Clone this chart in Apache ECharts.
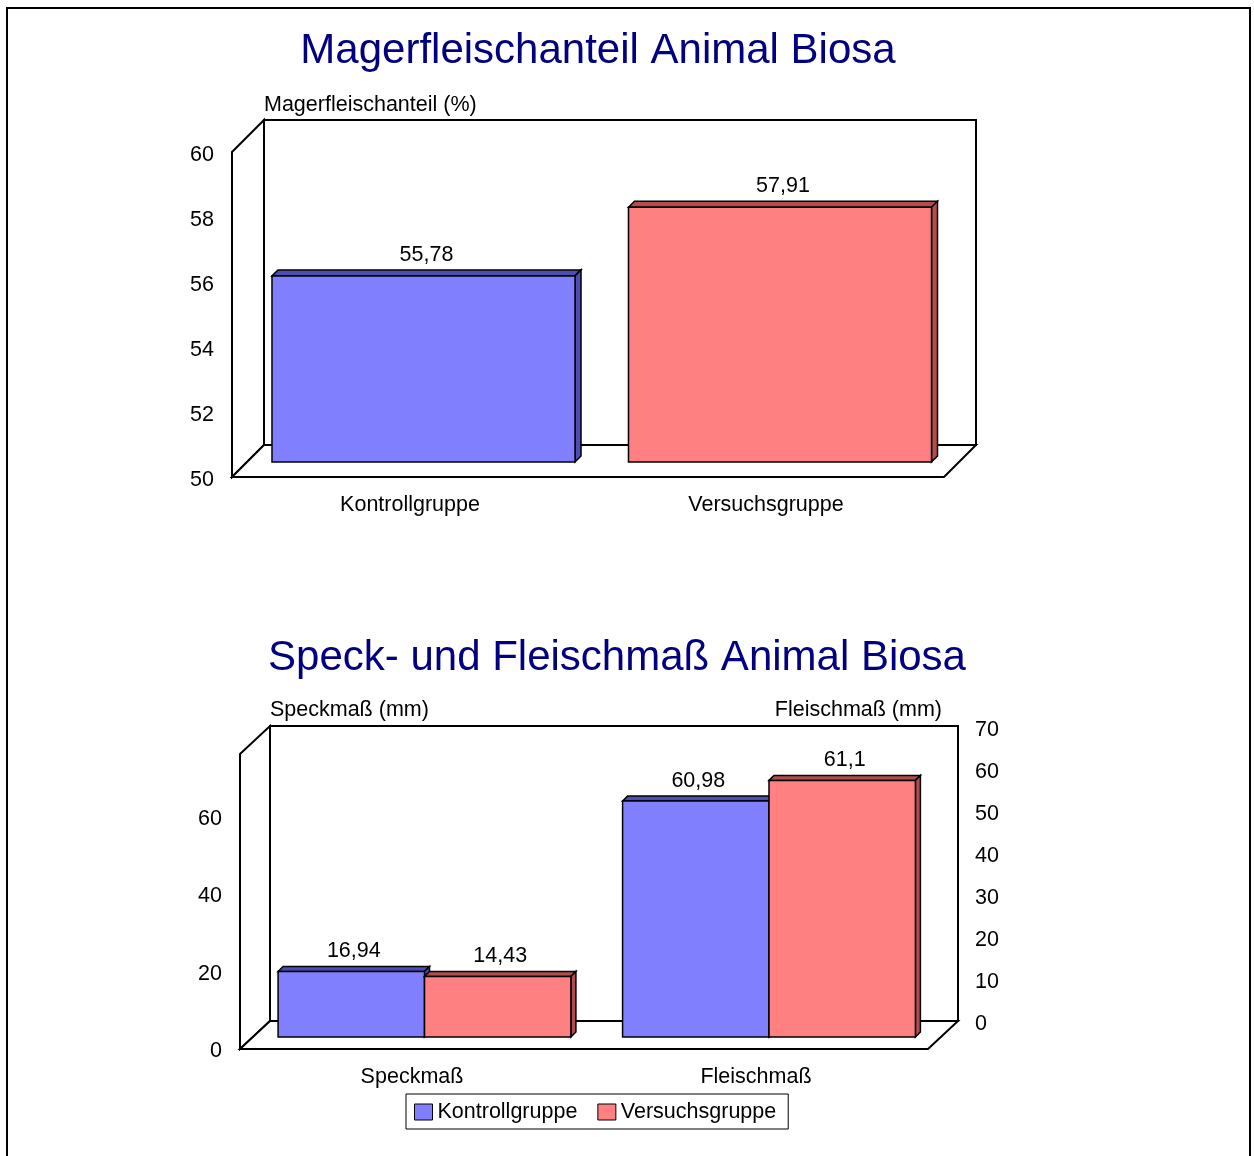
<!DOCTYPE html>
<html>
<head>
<meta charset="utf-8">
<script src="https://cdn.jsdelivr.net/npm/echarts@6/dist/echarts.min.js"></script>
<style>
  html, body { margin: 0; padding: 0; background: #fff; }
  #main { width: 1254px; height: 1156px; }
</style>
</head>
<body>
<div id="main"></div>
<script>
// Daten
var magerCategories = ['Kontrollgruppe', 'Versuchsgruppe'];
var magerValues = [55.78, 57.91];
var magerRange = [50, 60];
var magerStep = 2;

var masseCategories = ['Speckmaß', 'Fleischmaß'];
var kontrollValues = [16.94, 60.98];
var versuchValues = [14.43, 61.1];
var speckRange = [0, 76];   // linke Achse (Kontrollgruppe)
var speckStep = 20;
var fleischRange = [0, 70]; // rechte Achse (Versuchsgruppe)
var fleischStep = 10;

var FONT = '"Liberation Sans", Arial, sans-serif';
var FS = 21.5;
var blue = '#8080FF', blueDark = '#4D4DB3';
var red = '#FF8080', redDark = '#B34D4D';

function fmt(v) {
    return String(v).replace('.', ',');
}

// 3D-Säule (Excel-Stil): Vorderseite, Deckfläche, rechte Seite + Wertbeschriftung
function bar3d(base, slot, slots, ratio, depth, colors) {
    return function (params, api) {
        var cat = api.value(0), val = api.value(1);
        var band = api.size([1, 0])[0];
        var p0 = api.coord([cat, base]);
        var p1 = api.coord([cat, val]);
        var w = band * ratio / slots;
        var x0 = p0[0] - band * ratio / 2 + slot * w;
        var x1 = x0 + w;
        var yT = p1[1], yB = p0[1], d = depth;
        var c = colors[params.dataIndex % colors.length];
        return {
            type: 'group',
            children: [
                { type: 'polygon', shape: { points: [[x0, yT], [x0 + d, yT - d], [x1 + d, yT - d], [x1, yT]] },
                  style: { fill: c[1], stroke: '#000', lineWidth: 1.5 } },
                { type: 'polygon', shape: { points: [[x1, yT], [x1 + d, yT - d], [x1 + d, yB - d], [x1, yB]] },
                  style: { fill: c[1], stroke: '#000', lineWidth: 1.5 } },
                { type: 'rect', shape: { x: x0, y: yT, width: w, height: yB - yT },
                  style: { fill: c[0], stroke: '#000', lineWidth: 1.5 } },
                { type: 'text', style: { text: fmt(val), x: (x0 + x1) / 2 + d / 2, y: yT - d - 4,
                  align: 'center', verticalAlign: 'bottom', font: FS + 'px ' + FONT, fill: '#000' } }
            ]
        };
    };
}

// Wände (Rückwand, Seitenwand, Boden)
function walls(bx, by, w, h, dx, dy) {
    var st = { fill: '#fff', stroke: '#000', lineWidth: 2 };
    return [
        { type: 'polygon', z: -10, shape: { points: [[bx - dx, by + dy], [bx, by], [bx, by + h], [bx - dx, by + h + dy]] }, style: st },
        { type: 'rect', z: -10, shape: { x: bx, y: by, width: w, height: h }, style: st },
        { type: 'polygon', z: -10, shape: { points: [[bx - dx, by + h + dy], [bx + w - dx, by + h + dy], [bx + w, by + h], [bx, by + h]] }, style: st }
    ];
}

function pairs(arr) {
    return arr.map(function (v, i) { return [i, v]; });
}

var labelStyle = { fontSize: FS, color: '#000', fontFamily: FONT };
var hiddenCat = function (grid, data) {
    return { type: 'category', gridIndex: grid, data: data, show: false };
};
var titleStyle = { fontSize: 42, fontWeight: 'normal', color: '#000080', fontFamily: FONT };
var nameStyle = { fontSize: FS, fontWeight: 'normal', color: '#000', fontFamily: FONT };

var chartDom = document.getElementById('main');
var myChart = echarts.init(chartDom);
var option;

option = {
    animation: false,
    backgroundColor: '#fff',
    textStyle: { fontFamily: FONT },
    title: [
        { text: 'Magerfleischanteil Animal Biosa', left: 598, top: 30, padding: 0, textAlign: 'center', textStyle: titleStyle },
        { text: 'Speck- und Fleischmaß Animal Biosa', left: 617, top: 637, padding: 0, textAlign: 'center', textStyle: titleStyle },
        { text: 'Magerfleischanteil (%)', left: 264, top: 94, padding: 0, textStyle: nameStyle },
        { text: 'Speckmaß (mm)', left: 270, top: 699, padding: 0, textStyle: nameStyle },
        { text: 'Fleischmaß (mm)', left: 942, top: 699, padding: 0, textAlign: 'right', textStyle: nameStyle }
    ],
    legend: {
        data: ['Kontrollgruppe', 'Versuchsgruppe'],
        left: 406, top: 1094,
        padding: [7, 12, 6, 8],
        itemGap: 20,
        itemWidth: 18, itemHeight: 16,
        icon: 'rect',
        borderColor: '#000', borderWidth: 1,
        itemStyle: { borderColor: '#000', borderWidth: 1 },
        textStyle: { fontSize: FS, color: '#000', fontFamily: FONT }
    },
    graphic: [
        { type: 'rect', z: -20, shape: { x: 7, y: 8, width: 1243, height: 1170 },
          style: { fill: 'none', stroke: '#000', lineWidth: 2 } }
    ].concat(walls(264, 120, 712, 325, 32, 32), walls(270, 726, 688, 295, 30, 28)),
    grid: [
        { left: 232, top: 155, width: 712, height: 325 },
        { left: 245.25, top: 140, width: 713, height: 322 },
        { left: 240, top: 757, width: 688, height: 294 },
        { left: 270, top: 730, width: 688, height: 294 },
        { left: 252.25, top: 743, width: 689, height: 294 }
    ],
    xAxis: [
        { type: 'category', gridIndex: 0, data: magerCategories,
          axisLine: { show: false }, axisTick: { show: false },
          axisLabel: Object.assign({ margin: 14 }, labelStyle) },
        hiddenCat(1, magerCategories),
        { type: 'category', gridIndex: 2, data: masseCategories,
          axisLine: { show: false }, axisTick: { show: false },
          axisLabel: Object.assign({ margin: 15 }, labelStyle) },
        hiddenCat(3, masseCategories),
        hiddenCat(4, masseCategories)
    ],
    yAxis: [
        { type: 'value', gridIndex: 0, min: magerRange[0], max: magerRange[1], interval: magerStep,
          axisLine: { show: false }, axisTick: { show: false }, splitLine: { show: false },
          axisLabel: Object.assign({ margin: 18 }, labelStyle) },
        { type: 'value', gridIndex: 1, min: magerRange[0], max: magerRange[1], show: false, splitLine: { show: false } },
        { type: 'value', gridIndex: 2, min: speckRange[0], max: speckRange[1], interval: speckStep,
          axisLine: { show: false }, axisTick: { show: false }, splitLine: { show: false },
          axisLabel: Object.assign({ margin: 18, showMaxLabel: false,
              formatter: function (v) { return v % speckStep === 0 ? String(v) : ''; } }, labelStyle) },
        { type: 'value', gridIndex: 3, position: 'right', min: fleischRange[0], max: fleischRange[1], interval: fleischStep,
          axisLine: { show: false }, axisTick: { show: false }, splitLine: { show: false },
          axisLabel: Object.assign({ margin: 17 }, labelStyle) },
        { type: 'value', gridIndex: 4, min: speckRange[0], max: speckRange[1], show: false, splitLine: { show: false } },
        { type: 'value', gridIndex: 4, position: 'right', min: fleischRange[0], max: fleischRange[1], show: false, splitLine: { show: false } }
    ],
    series: [
        {
            name: 'Magerfleischanteil',
            type: 'custom',
            xAxisIndex: 1, yAxisIndex: 1,
            encode: { x: 0, y: 1 },
            itemStyle: { color: blue },
            renderItem: bar3d(magerRange[0], 0, 1, 0.85, 6, [[blue, blueDark], [red, redDark]]),
            data: pairs(magerValues)
        },
        {
            name: 'Kontrollgruppe',
            type: 'custom',
            xAxisIndex: 4, yAxisIndex: 4,
            encode: { x: 0, y: 1 },
            itemStyle: { color: blue },
            renderItem: bar3d(speckRange[0], 0, 2, 0.85, 5, [[blue, blueDark]]),
            data: pairs(kontrollValues)
        },
        {
            name: 'Versuchsgruppe',
            type: 'custom',
            xAxisIndex: 4, yAxisIndex: 5,
            encode: { x: 0, y: 1 },
            itemStyle: { color: red },
            renderItem: bar3d(fleischRange[0], 1, 2, 0.85, 5, [[red, redDark]]),
            data: pairs(versuchValues)
        }
    ]
};

option && myChart.setOption(option);
</script>
</body>
</html>
